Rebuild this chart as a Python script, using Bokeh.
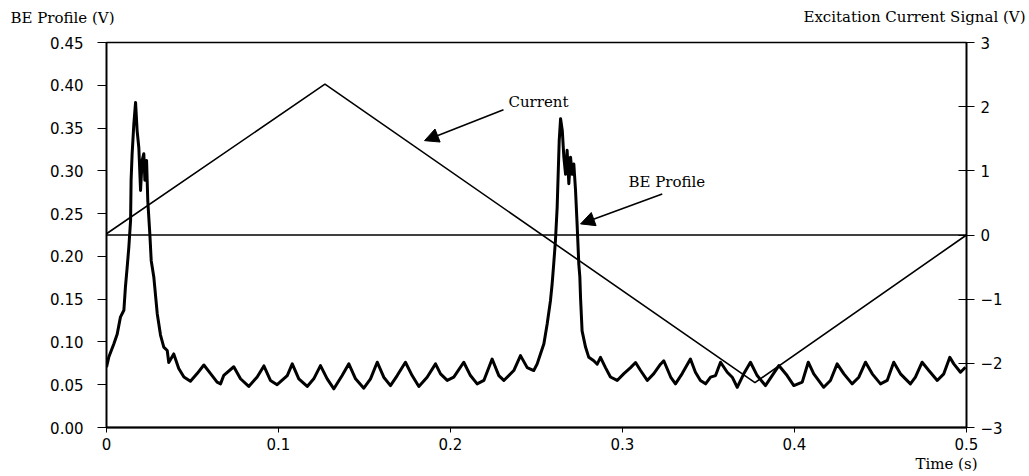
from bokeh.plotting import figure
from bokeh.models import (Range1d, LinearAxis, FixedTicker, Label, Arrow, NormalHead, Title)
from bokeh.embed import file_html
from bokeh.resources import INLINE

# ---------------- data ----------------
be_time = [0.0, 0.0013, 0.0043, 0.0062, 0.0081, 0.0101, 0.011, 0.012, 0.013, 0.014,
           0.0143, 0.0149, 0.0159, 0.0169, 0.0178, 0.0188, 0.0198, 0.0207, 0.0217, 0.0223,
           0.0233, 0.024, 0.0252, 0.026, 0.0275, 0.0295, 0.0314, 0.0333, 0.0353, 0.0362,
           0.0391, 0.042, 0.045, 0.0488, 0.0527, 0.0566, 0.0605, 0.0643, 0.0663, 0.0682,
           0.074, 0.0779, 0.0827, 0.0876, 0.0915, 0.0953, 0.0992,
           0.1051, 0.108, 0.1118, 0.1167, 0.1205, 0.1244, 0.1283, 0.1322, 0.137, 0.1409,
           0.1448, 0.1496, 0.1535, 0.1574, 0.1612, 0.1651, 0.169, 0.1738, 0.1777, 0.1816,
           0.1864, 0.1913, 0.1942, 0.1981, 0.2019, 0.2077, 0.2116, 0.2155, 0.2194, 0.2242,
           0.2281, 0.231, 0.2368, 0.2407,
           0.2446, 0.2484, 0.2504, 0.2523, 0.2543, 0.2562, 0.2581, 0.2591, 0.26, 0.261,
           0.262, 0.2626, 0.2632, 0.264, 0.265, 0.2659, 0.2669, 0.2678, 0.2688, 0.2698,
           0.2707, 0.2717, 0.2727, 0.2736, 0.2746, 0.2752, 0.2756, 0.2765, 0.2785, 0.2804,
           0.2833, 0.2853, 0.2872, 0.2901, 0.293, 0.2969, 0.3008, 0.3047, 0.3076, 0.3105,
           0.3144, 0.3182, 0.3221, 0.324, 0.328, 0.3308, 0.3347,
           0.3395, 0.3424, 0.3453, 0.3483, 0.3512, 0.3541, 0.357, 0.3609, 0.3638, 0.3667,
           0.3705, 0.3744, 0.3783, 0.3831, 0.387, 0.3909, 0.3957, 0.3996, 0.4045, 0.408,
           0.4112, 0.417, 0.4209, 0.4248, 0.4287, 0.4335, 0.4374, 0.4413, 0.4452, 0.45,
           0.4539, 0.4577, 0.4616, 0.4674, 0.4703, 0.4742, 0.4781, 0.483, 0.4868, 0.4903,
           0.4926, 0.4965, 0.4994]
be_volts = [0.0705, 0.082, 0.098, 0.109, 0.129, 0.137, 0.164, 0.187, 0.211, 0.242,
            0.289, 0.32, 0.355, 0.38, 0.347, 0.327, 0.277, 0.312, 0.32, 0.289,
            0.312, 0.265, 0.226, 0.195, 0.176, 0.133, 0.108, 0.094, 0.09, 0.076,
            0.086, 0.069, 0.059, 0.054, 0.063, 0.073, 0.063, 0.053, 0.051, 0.061,
            0.071, 0.057, 0.048, 0.059, 0.072, 0.055, 0.05,
            0.0607, 0.0744, 0.0569, 0.048, 0.0569, 0.0724, 0.0569, 0.0452, 0.0607, 0.0744,
            0.0569, 0.046, 0.0569, 0.0763, 0.0588, 0.049, 0.0607, 0.0763, 0.0607, 0.048,
            0.0588, 0.0744, 0.0627, 0.055, 0.0588, 0.0763, 0.0607, 0.051, 0.055, 0.080,
            0.0607, 0.055, 0.0666, 0.084,
            0.070, 0.0666, 0.0744, 0.086, 0.098, 0.121, 0.148, 0.168, 0.191, 0.218,
            0.257, 0.296, 0.335, 0.361, 0.347, 0.316, 0.296, 0.324, 0.285, 0.316,
            0.296, 0.308, 0.277, 0.238, 0.191, 0.176, 0.152, 0.113, 0.094, 0.082,
            0.078, 0.074, 0.082, 0.070, 0.059, 0.055, 0.063, 0.070, 0.076, 0.0666,
            0.055, 0.063, 0.074, 0.078, 0.059, 0.051, 0.063,
            0.080, 0.0646, 0.055, 0.051, 0.0588, 0.0607, 0.0763, 0.0646, 0.0588, 0.047,
            0.0627, 0.0763, 0.0607, 0.049, 0.0607, 0.0724, 0.0607, 0.049, 0.053, 0.0763,
            0.0627, 0.047, 0.055, 0.0744, 0.0627, 0.051, 0.0588, 0.0763, 0.0627, 0.051,
            0.055, 0.0763, 0.0627, 0.051, 0.0588, 0.0763, 0.0666, 0.055, 0.0627, 0.082,
            0.0744, 0.0646, 0.0705]

current_time = [0.0, 0.127, 0.377, 0.5]
current_volts = [0.02, 2.35, -2.30, 0.0]

zero_time = [0.0, 0.5]
zero_volts = [0.0, 0.0]

x_ticks = [0.0, 0.1, 0.2, 0.3, 0.4, 0.5]
x_tick_labels = ["0", "0.1", "0.2", "0.3", "0.4", "0.5"]
left_ticks = [0.0, 0.05, 0.10, 0.15, 0.20, 0.25, 0.30, 0.35, 0.40, 0.45]
right_ticks = [-3, -2, -1, 0, 1, 2, 3]

SERIF = "DejaVu Serif"
SANS = "DejaVu Sans"
TXT = "15px"
TICK = "15px"

p = figure(width=1029, height=476, output_backend="svg", toolbar_location=None,
           x_range=Range1d(0, 0.5), y_range=Range1d(0, 0.45),
           min_border_left=106, min_border_right=63, min_border_top=42, min_border_bottom=49)
p.extra_y_ranges = {"cur": Range1d(-3, 3)}
p.xgrid.visible = False
p.ygrid.visible = False
p.outline_line_color = "black"
p.outline_line_width = 1.3
p.background_fill_color = "white"
p.border_fill_color = "white"

# axes
xa = p.xaxis[0]
xa.ticker = FixedTicker(ticks=x_ticks)
xa.major_label_overrides = {t: l for t, l in zip(x_ticks, x_tick_labels)}
xa.major_tick_in = 0
xa.major_tick_out = 5
xa.minor_tick_line_color = None
xa.major_label_standoff = 5
xa.axis_line_width = 1.8
xa.major_label_text_font = SANS
xa.major_label_text_font_size = TICK
xa.major_label_text_color = "black"

ya = p.yaxis[0]
ya.ticker = FixedTicker(ticks=left_ticks)
ya.major_label_overrides = {t: f"{t:.2f}" for t in left_ticks}
ya.major_tick_in = 0
ya.major_tick_out = 9
ya.minor_tick_line_color = None
ya.major_label_standoff = 14
ya.axis_line_width = 1.8
ya.major_label_text_font = SANS
ya.major_label_text_font_size = TICK
ya.major_label_text_color = "black"

ra = LinearAxis(y_range_name="cur", ticker=FixedTicker(ticks=right_ticks))
ra.major_tick_in = 8
ra.major_tick_out = 8
ra.minor_tick_line_color = None
ra.major_label_standoff = 6
ra.axis_line_width = 1.8
ra.major_label_text_font = SANS
ra.major_label_text_font_size = TICK
ra.major_label_text_color = "black"
p.add_layout(ra, "right")

# lines
p.line(zero_time, zero_volts, y_range_name="cur", line_color="black", line_width=1.3)
p.line(current_time, current_volts, y_range_name="cur", line_color="black", line_width=1.6)
p.line(be_time, be_volts, line_color="black", line_width=3.0, line_join="round")

# axis titles
p.add_layout(Label(x=-96, y=25, x_units="screen", y_units="screen", text="BE Profile (V)",
                   text_font=SERIF, text_font_size=TXT, text_baseline="middle",
                   text_align="left", text_color="black"), "above")
p.add_layout(Label(x=919, y=8, x_units="screen", y_units="screen",
                   text="Excitation Current Signal (V)",
                   text_font=SERIF, text_font_size=TXT, text_baseline="middle",
                   text_align="right", text_color="black"), "above")
p.add_layout(Title(text="Time (s)", align="right", offset=-11, standoff=0,
                   text_font=SERIF, text_font_size=TXT, text_font_style="normal",
                   text_color="black"), "below")

# annotations
p.add_layout(Label(x=0.2337, y=0.380, text="Current", text_font=SERIF,
                   text_font_size=TXT, text_baseline="middle", text_align="left",
                   text_color="black"))
p.add_layout(Arrow(end=NormalHead(size=14, fill_color="black", line_color="black"),
                   x_start=0.2308, y_start=0.3715, x_end=0.1849, y_end=0.3353,
                   line_color="black", line_width=1.6))
p.add_layout(Label(x=0.3035, y=0.2866, text="BE Profile", text_font=SERIF,
                   text_font_size=TXT, text_baseline="middle", text_align="left",
                   text_color="black"))
p.add_layout(Arrow(end=NormalHead(size=14, fill_color="black", line_color="black"),
                   x_start=0.3231, y_start=0.273, x_end=0.2756, y_end=0.238,
                   line_color="black", line_width=1.6))

open("out.html", "w").write(file_html(p, INLINE))
